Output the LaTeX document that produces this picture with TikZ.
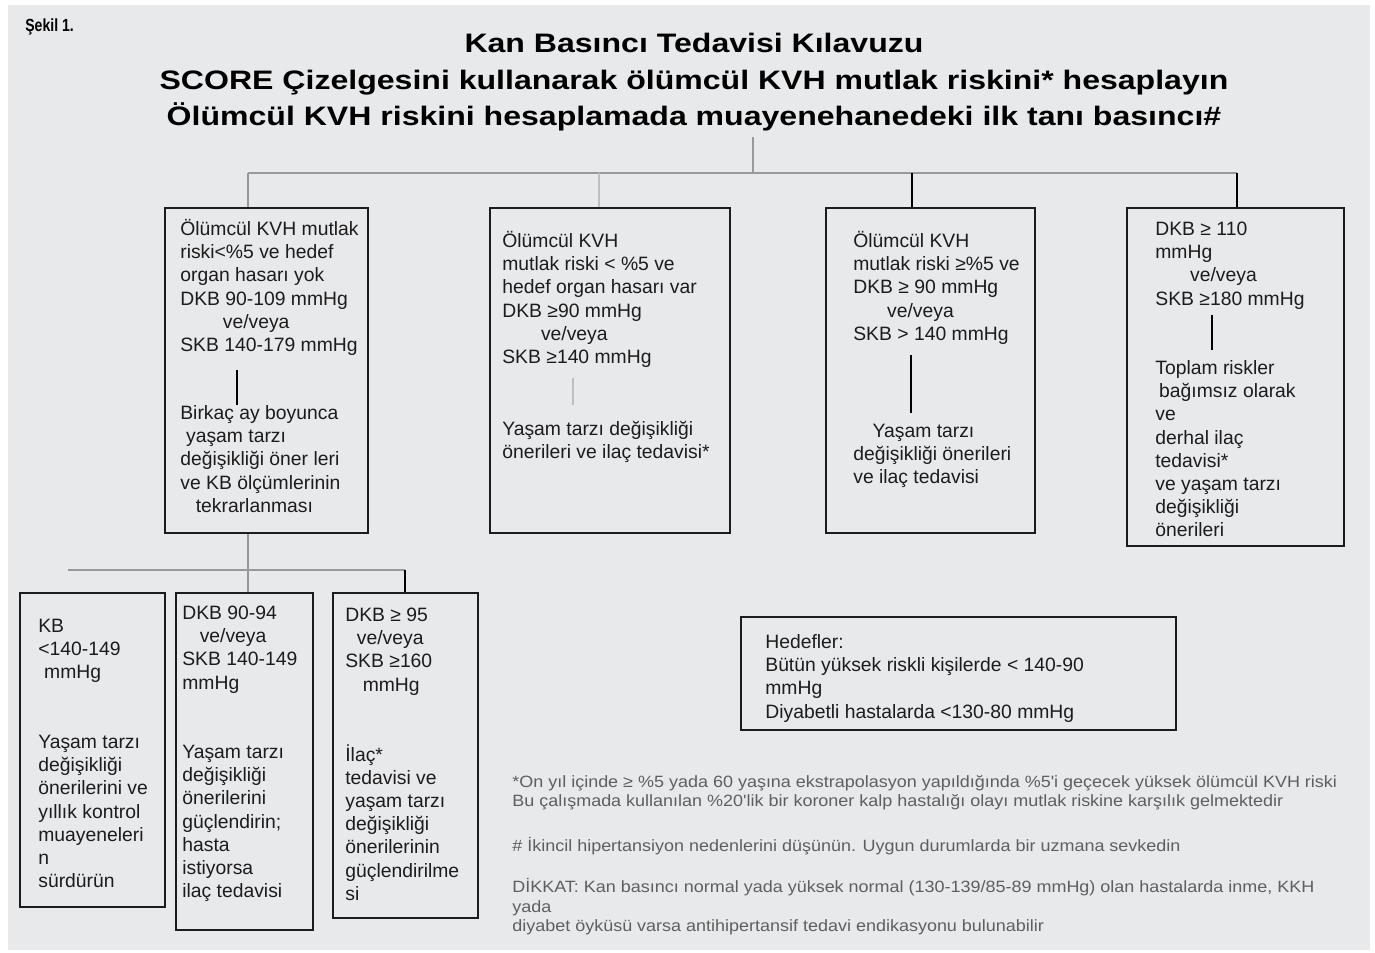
\documentclass[tikz,border=0pt]{standalone}
\usepackage{fontspec}
\setmainfont{Liberation Sans}
\newfontfamily\titlefont[FakeStretch=1.2]{Liberation Sans}
\newfontfamily\labelfont[FakeStretch=0.8]{Liberation Sans}
\newfontfamily\notefont[FakeStretch=1.1]{Liberation Sans}
\usetikzlibrary{fit}
\definecolor{pagebg}{RGB}{232,233,235}
\definecolor{ink}{RGB}{28,28,28}
\definecolor{notegray}{RGB}{95,95,95}

\begin{document}
\begin{tikzpicture}[
    x=0.2mm, y=-0.2mm,
    box/.style={draw=ink, line width=1.4pt, inner sep=0pt},
    txt/.style={anchor=north west, inner sep=0pt, align=left, text=ink,
        font=\fontsize{11}{13.2}\selectfont},
    note/.style={anchor=north west, inner sep=0pt, align=left, text=notegray,
        font=\notefont\fontsize{9.3}{11.2}\selectfont},
    bus/.style={draw=black!40, line width=0.7pt},
    stem/.style={draw=black, line width=1pt},
    faint/.style={draw=black!25, line width=0.7pt}
]

% Page
\useasboundingbox (0,0) rectangle (1375,953);
\fill[white] (0,0) rectangle (1375,953);
\fill[pagebg] (8,5) rectangle (1370,950);

% Heading
\node[anchor=west, inner sep=0pt, font=\labelfont\bfseries\fontsize{10}{12}\selectfont] (fig) at (25,27) {Şekil 1.};
\node[anchor=north, inner sep=0pt, align=center, font=\titlefont\bfseries\fontsize{15.2}{21}\selectfont] (title) at (694,26)
    {\strut Kan Basıncı Tedavisi Kılavuzu\\
     SCORE Çizelgesini kullanarak ölümcül KVH mutlak riskini* hesaplayın\\
     Ölümcül KVH riskini hesaplamada muayenehanedeki ilk tanı basıncı\#\strut};

% --- Upper row of boxes
\node[box, fit={(165,208) (368,533)}] (b1) {};
\node[box, fit={(490,208) (730,533)}] (b2) {};
\node[box, fit={(826,208) (1035,533)}] (b3) {};
\node[box, fit={(1127,208) (1344,546)}] (b4) {};

\node[txt] (t1a) at (180,219) {\strut Ölümcül KVH mutlak\\ riski<\%5 ve hedef\\ organ hasarı yok\\ DKB 90-109 mmHg\\ \hspace*{2.2em}ve/veya\\ SKB 140-179 mmHg};
\node[txt] (t1b) at (180,403) {\strut Birkaç ay boyunca\\ \hspace*{0.3em}yaşam tarzı\\ değişikliği öner leri\\ ve KB ölçümlerinin\\ \hspace*{0.8em}tekrarlanması};

\node[txt] (t2a) at (502,231) {\strut Ölümcül KVH\\ mutlak riski < \%5 ve\\ hedef organ hasarı var\\ DKB ≥90 mmHg\\ \hspace*{2em}ve/veya\\ SKB ≥140 mmHg};
\node[txt] (t2b) at (502,419) {\strut Yaşam tarzı değişikliği\\ önerileri ve ilaç tedavisi*};

\node[txt] (t3a) at (853,231) {\strut Ölümcül KVH\\ mutlak riski ≥\%5 ve\\ DKB ≥ 90 mmHg\\ \hspace*{1.75em}ve/veya\\ SKB > 140 mmHg};
\node[txt] (t3b) at (853,421) {\strut\hspace*{1em}Yaşam tarzı\\ değişikliği önerileri\\ ve ilaç tedavisi};

\node[txt] (t4a) at (1155,219) {\strut DKB ≥ 110\\ mmHg\\ \hspace*{1.8em}ve/veya\\ SKB ≥180 mmHg};
\node[txt] (t4b) at (1155,358) {\strut Toplam riskler\\ \hspace*{0.2em}bağımsız olarak\\ ve\\ derhal ilaç\\ tedavisi*\\ ve yaşam tarzı\\ değişikliği\\ önerileri};

% --- Lower row of boxes
\node[box, fit={(20,593) (165,907)}] (b5) {};
\node[box, fit={(176,593) (313,930)}] (b6) {};
\node[box, fit={(333,593) (478,918)}] (b7) {};

\node[txt] (t5a) at (38,616) {\strut KB\\ <140-149\\ \hspace*{0.3em}mmHg};
\node[txt] (t5b) at (38,732) {\strut Yaşam tarzı\\ değişikliği\\ önerilerini ve\\ yıllık kontrol\\ muayeneleri\\ n\\ sürdürün};

\node[txt] (t6a) at (182,603) {\strut DKB 90-94\\ \hspace*{0.9em}ve/veya\\ SKB 140-149\\ mmHg};
\node[txt] (t6b) at (182,742) {\strut Yaşam tarzı\\ değişikliği\\ önerilerini\\ güçlendirin;\\ hasta\\ istiyorsa\\ ilaç tedavisi};

\node[txt] (t7a) at (345,605) {\strut DKB ≥ 95\\ \hspace*{0.6em}ve/veya\\ SKB ≥160\\ \hspace*{0.9em}mmHg};
\node[txt] (t7b) at (345,744) {\strut İlaç*\\ tedavisi ve\\ yaşam tarzı\\ değişikliği\\ önerilerinin\\ güçlendirilme\\ si};

% Goals
\node[box, fit={(741,617) (1176,730)}] (goal) {};
\node[txt] (t8) at (765,632) {\strut Hedefler:\\ Bütün yüksek riskli kişilerde < 140-90\\ mmHg\\ Diyabetli hastalarda <130-80 mmHg};

% Footnotes
\node[note] (n1) at (512,773) {\strut *On yıl içinde ≥ \%5 yada 60 yaşına ekstrapolasyon yapıldığında \%5'i geçecek yüksek ölümcül KVH riski\\ Bu çalışmada kullanılan \%20'lik bir koroner kalp hastalığı olayı mutlak riskine karşılık gelmektedir};
\node[note] (n2) at (512,837) {\strut \# İkincil hipertansiyon nedenlerini düşünün. Uygun durumlarda bir uzmana sevkedin};
\node[note] (n3) at (512,878) {\strut DİKKAT: Kan basıncı normal yada yüksek normal (130-139/85-89 mmHg) olan hastalarda inme, KKH\\ yada\\ diyabet öyküsü varsa antihipertansif tedavi endikasyonu bulunabilir};

% Upper connectors
\coordinate (j0) at (753,173);
\coordinate (j1) at (248,173);
\coordinate (j2) at (599,173);
\coordinate (j3) at (912,173);
\coordinate (j4) at (1237,173);
\draw[bus] (j0 |- title.south) -- (j0);
\draw[bus] (j1) -- (j4);
\draw[bus] (j1) -- (j1 |- b1.north);
\draw[faint] (j2) -- (j2 |- b2.north);
\draw[stem] (j3) -- (j3 |- b3.north);
\draw[stem] (j4) -- (j4 |- b4.north);

% Lower connectors
\coordinate (k0) at (68,570);
\coordinate (k1) at (248,570);
\coordinate (k2) at (405,570);
\draw[bus] (k0) -- (k2);
\draw[bus] (k1 |- b1.south) -- (k1 |- b6.north);
\draw[stem] (k2) -- (k2 |- b7.north);

% Stems inside the boxes
\coordinate (s1) at (237,370); \coordinate (e1) at (237,405);
\coordinate (s2) at (573,378); \coordinate (e2) at (573,405);
\coordinate (s3) at (911,355); \coordinate (e3) at (911,413);
\coordinate (s4) at (1212,315); \coordinate (e4) at (1212,350);
\draw[stem] (s1) -- (e1);
\draw[faint] (s2) -- (e2);
\draw[stem] (s3) -- (e3);
\draw[stem] (s4) -- (e4);

\end{tikzpicture}
\end{document}
